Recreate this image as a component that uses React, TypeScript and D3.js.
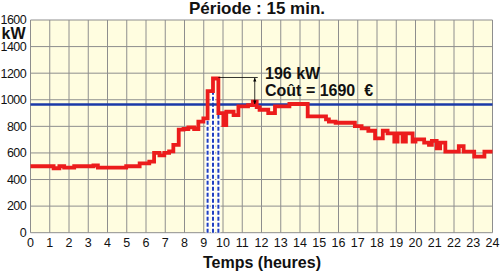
import React from "react";
import * as d3 from "d3";

const stepHours = [0,1.2,1.5,1.75,2.27,3.27,3.5,4.97,5.67,6.17,6.42,6.7,6.95,7.2,7.42,7.7,7.95,8.2,8.5,8.72,8.98,9.2,9.48,9.76,10.02,10.17,10.55,10.8,11.3,11.55,11.75,11.9,12.35,12.7,13.45,14.4,15.35,15.5,15.85,16.85,17.2,17.55,17.9,18.3,18.55,18.9,19.07,19.33,19.5,19.85,20.0,20.45,20.7,20.85,21.1,21.28,21.55,22.25,22.5,23.05,23.58];
const stepKW = [500,485,500,490,500,507,490,500,522,535,600,582,600,612,660,775,780,792,780,835,860,1065,1160,900,810,910,885,950,960,985,945,925,900,950,968,875,852,835,827,802,785,767,710,767,747,685,747,685,747,685,702,677,660,690,635,677,610,652,610,572,610];
const endHour = 24;
const threshold = 964;
const peakMarks = [9.2, 9.48, 9.76];
const xTicks = d3.range(0, 25, 1);
const yTicks = [0, 200, 400, 600, 800, 1000, 1200, 1400, 1600];
const title = "Période : 15 min.";
const yUnit = "kW";
const xTitle = "Temps (heures)";
const cost = 1690;

const W = 500, H = 271;
const FONT = "'Liberation Sans', Arial, sans-serif";

export default function App() {
  const x = d3.scaleLinear().domain([0, 24]).range([30.5, 492.5]);
  const y = d3.scaleLinear().domain([0, 1600]).range([232.7, 20]);

  const pts: [number, number][] = stepHours.map((h, i) => [h, stepKW[i]]);
  pts.push([endHour, stepKW[stepKW.length - 1]]);
  const line = d3.line<[number, number]>()
    .x(d => x(d[0])).y(d => y(d[1]))
    .curve(d3.curveStepAfter);

  const peak = d3.max(stepKW) as number;
  const peakIdx = stepKW.indexOf(peak);
  const peakEnd = stepHours[peakIdx + 1];
  const diff = Math.round(peak - threshold);

  const markTops = peakMarks.map(h => {
    const i = stepHours.findIndex(v => Math.abs(v - h) < 1e-6);
    return Math.min(stepKW[i - 1], stepKW[i]);
  });

  const arrowX = x(11.65);

  return (
    <svg width={W} height={H} style={{ position: "absolute", left: 0, top: 0, background: "#fff" }} fontFamily={FONT}>
      <defs>
        <marker id="ah" viewBox="0 0 10 10" refX="9" refY="5" markerWidth="5" markerHeight="5" orient="auto-start-reverse">
          <path d="M0,1 L10,5 L0,9 z" fill="#000" />
        </marker>
      </defs>
      <rect x={x(0)} y={y(1600)} width={x(24) - x(0)} height={y(0) - y(1600)} fill="#fffde0" />
      {xTicks.map(t => (
        <line key={"gx" + t} x1={x(t)} x2={x(t)} y1={y(0)} y2={y(1600)} stroke="#8e8e8e" strokeWidth={1} />
      ))}
      {yTicks.map(t => (
        <line key={"gy" + t} x1={x(0)} x2={x(24)} y1={y(t)} y2={y(t)} stroke="#8e8e8e" strokeWidth={1} />
      ))}
      {peakMarks.map((h, i) => (
        <g key={"pm" + i}>
          <line x1={x(h)} x2={x(h)} y1={y(0)} y2={y(markTops[i])} stroke="#ffffff" strokeWidth={4} />
          <line x1={x(h)} x2={x(h)} y1={y(0)} y2={y(markTops[i])} stroke="#1f3fc0" strokeWidth={2} strokeDasharray="4,2" />
        </g>
      ))}
      <line x1={x(0)} x2={x(24)} y1={y(threshold)} y2={y(threshold)} stroke="#1a38a8" strokeWidth={2.6} />
      <path d={line(pts) || ""} fill="none" stroke="#ec1c1c" strokeWidth={3.8} strokeLinejoin="miter" />
      <line x1={x(peakEnd)} x2={arrowX + 3} y1={y(peak) - 1} y2={y(peak) - 1} stroke="#000" strokeWidth={0.8} />
      <line x1={arrowX} x2={arrowX} y1={y(peak) - 0.5} y2={y(threshold) - 0.5} stroke="#000" strokeWidth={0.8}
        markerStart="url(#ah)" markerEnd="url(#ah)" />
      <text x={265} y={79} fontSize={16} fontWeight="bold" fill="#111">{`${diff} kW`}</text>
      <text x={265} y={96} fontSize={16} fontWeight="bold" fill="#111" style={{ whiteSpace: "pre" }}>{`Coût = ${cost}  €`}</text>
      {yTicks.map(t => (
        <text key={"ty" + t} x={26} y={y(t)} dy="0.35em" textAnchor="end" fontSize={12.5} letterSpacing={-0.6} fill="#111">{t}</text>
      ))}
      {xTicks.map(t => (
        <text key={"tx" + t} x={x(t)} y={246.5} textAnchor="middle" fontSize={12.5} fill="#111">{t}</text>
      ))}
      <text x={257} y={14} textAnchor="middle" fontSize={17} fontWeight="bold" fill="#111">{title}</text>
      <text x={1.5} y={38.5} fontSize={16} fontWeight="bold" fill="#111">{yUnit}</text>
      <text x={262} y={268} textAnchor="middle" fontSize={16} fontWeight="bold" fill="#111">{xTitle}</text>
    </svg>
  );
}
